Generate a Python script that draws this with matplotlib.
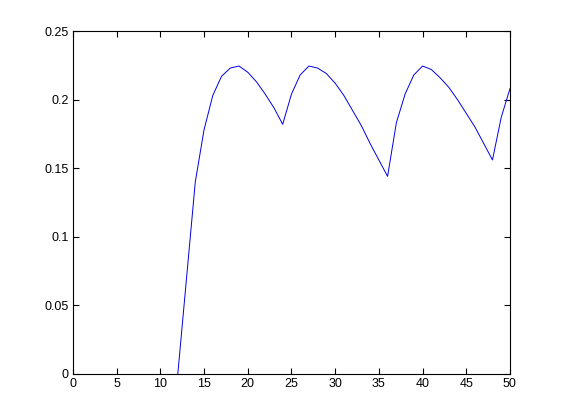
import numpy as np
import matplotlib
matplotlib.use("Agg")
import matplotlib.pyplot as plt

# 読み取った値
x_vals = np.arange(0, 51)
y_vals = [0, 0, 0, 0, 0, 0, 0, 0, 0, 0, 0, 0, 0,
          0.070, 0.140, 0.178, 0.203, 0.217, 0.223, 0.2245, 0.220,
          0.213, 0.204, 0.194, 0.182, 0.204, 0.218, 0.2245, 0.223,
          0.219, 0.212, 0.203, 0.192, 0.181, 0.168, 0.156, 0.144,
          0.183, 0.204, 0.218, 0.2245, 0.222, 0.216, 0.209, 0.200,
          0.190, 0.180, 0.168, 0.156, 0.187, 0.208]
x_ticks = [0, 5, 10, 15, 20, 25, 30, 35, 40, 45, 50]
y_ticks = [0, 0.05, 0.1, 0.15, 0.2, 0.25]
y_labels = ["0", "0.05", "0.1", "0.15", "0.2", "0.25"]

plt.rcParams['font.family'] = ['Liberation Sans', 'DejaVu Sans']

fig = plt.figure(figsize=(5.61, 4.2), dpi=100)
ax = fig.add_axes([0.13, 0.11, 0.779, 0.816])
# 0の区間は軸線に隠れるので12から描く
ax.plot(x_vals[12:], y_vals[12:], color=(0, 0, 0.9), linewidth=0.7, zorder=2)

ax.set_xlim(0, 50)
ax.set_ylim(0, 0.25)
ax.set_xticks(x_ticks)
ax.set_yticks(y_ticks)
ax.set_yticklabels(y_labels)
ax.tick_params(direction='in', top=True, right=True, labelsize=9,
               length=4, width=0.8, pad=3)
for s in ax.spines.values():
    s.set_linewidth(0.8)

plt.savefig("out.png", dpi=100)
